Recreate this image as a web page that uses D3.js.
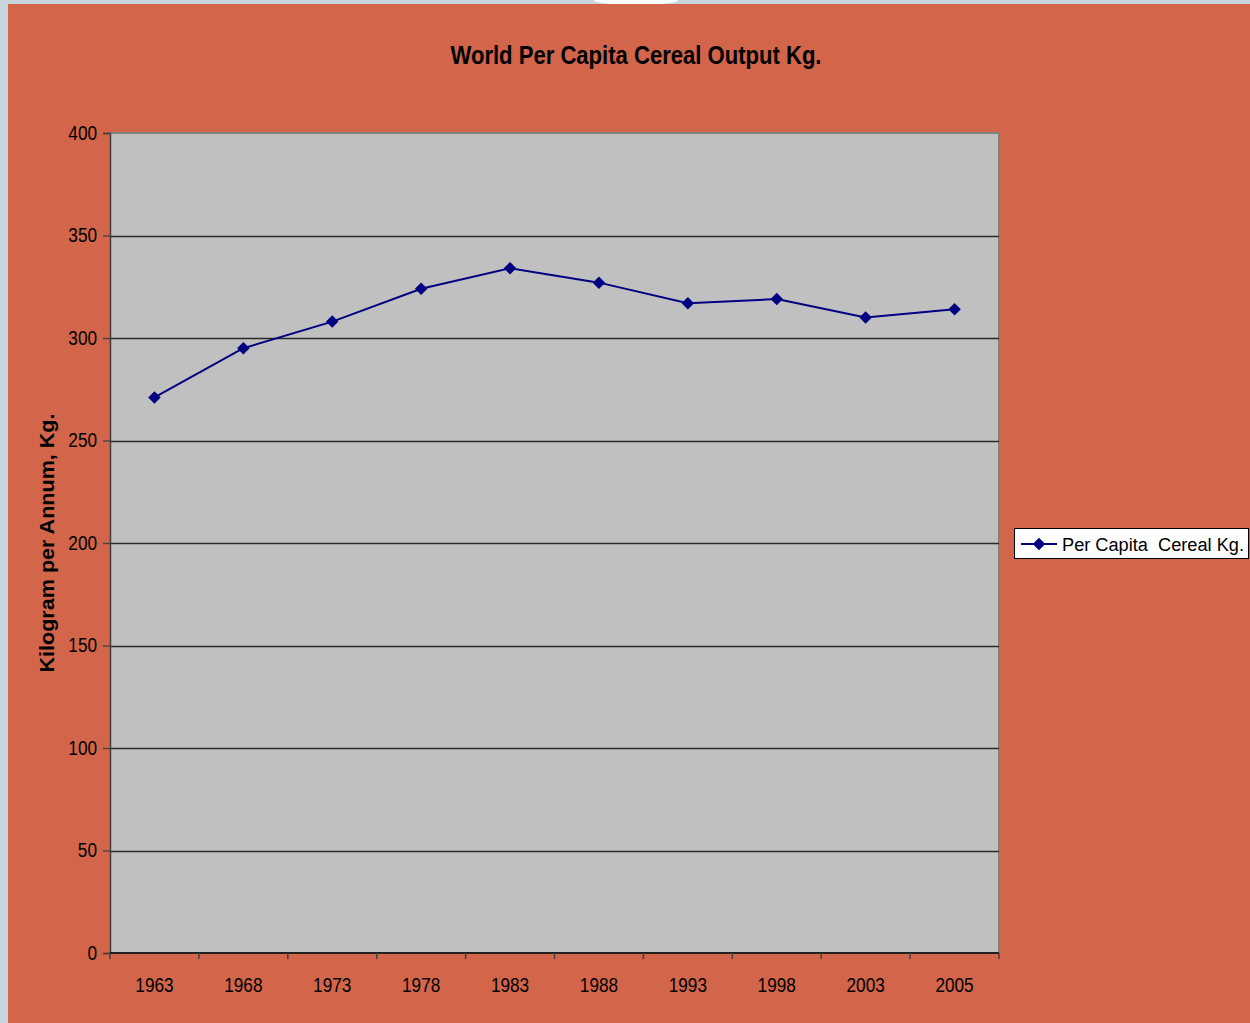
<!DOCTYPE html>
<html>
<head>
<meta charset="utf-8">
<script src="https://cdn.jsdelivr.net/npm/d3@7"></script>
<style>
  body { margin: 0; background: #c9d5dc; }
  svg { display: block; }
</style>
</head>
<body>
<svg id="chart"></svg>
<script>
const years = ["1963", "1968", "1973", "1978", "1983", "1988", "1993", "1998", "2003", "2005"];
const cereal = [271, 295, 308, 324, 334, 327, 317, 319, 310, 314];
const yTicks = [0, 50, 100, 150, 200, 250, 300, 350, 400];
const seriesName = "Per Capita  Cereal Kg.";

const width = 1250;
const height = 1023;
const plot = { left: 110, top: 133, right: 999, bottom: 953 };
const sans = "'Liberation Sans', Arial, sans-serif";

// squeeze text horizontally to mimic a narrow face
function narrow(sel, factor) {
    sel.each(function() {
        var w = this.getComputedTextLength();
        d3.select(this)
            .attr("textLength", w * factor)
            .attr("lengthAdjust", "spacingAndGlyphs");
    });
}

var svg = d3.select("#chart")
    .attr("width", width)
    .attr("height", height);

// page frame
svg.append("rect")
    .attr("x", 0).attr("y", 0)
    .attr("width", width).attr("height", height)
    .attr("fill", "#c9d5dc");
svg.append("ellipse")
    .attr("cx", 636).attr("cy", 0)
    .attr("rx", 42).attr("ry", 5)
    .attr("fill", "#ffffff");
svg.append("rect")
    .attr("x", 8).attr("y", 4)
    .attr("width", width - 8).attr("height", height - 4)
    .attr("fill", "#d2654a");

var x = d3.scaleBand()
    .domain(years)
    .range([plot.left, plot.right]);

var y = d3.scaleLinear()
    .domain([0, 400])
    .range([plot.bottom, plot.top]);

// plot area
svg.append("rect")
    .attr("x", plot.left).attr("y", plot.top)
    .attr("width", plot.right - plot.left)
    .attr("height", plot.bottom - plot.top)
    .attr("fill", "#c0c0c0")
    .attr("stroke", "#808080")
    .attr("stroke-width", 2);

// gridlines
svg.append("g")
    .selectAll("line")
    .data(yTicks.filter(d => d > 0 && d < 400))
    .enter()
    .append("line")
    .attr("x1", plot.left).attr("x2", plot.right)
    .attr("y1", d => Math.round(y(d)) + 0.5)
    .attr("y2", d => Math.round(y(d)) + 0.5)
    .attr("stroke", "#2a2a2a")
    .attr("stroke-width", 1.3);

// y axis
var yAxis = svg.append("g")
    .attr("transform", "translate(" + plot.left + ",0)")
    .call(d3.axisLeft(y).tickValues(yTicks).tickSize(7).tickPadding(6));
yAxis.select(".domain").attr("stroke", "#404040").attr("stroke-width", 1.5);
yAxis.selectAll(".tick line").attr("stroke", "#404040").attr("stroke-width", 1.3);
yAxis.selectAll("text")
    .attr("font-family", sans)
    .attr("font-size", 20)
    .attr("fill", "#000")
    .call(narrow, 0.86);

// x axis with ticks between categories
var xAxis = svg.append("g")
    .attr("transform", "translate(0," + plot.bottom + ")")
    .call(d3.axisBottom(x).tickSize(0).tickPadding(25));
xAxis.select(".domain").remove();
xAxis.selectAll("text")
    .attr("font-family", sans)
    .attr("font-size", 20)
    .attr("fill", "#000")
    .call(narrow, 0.86);
svg.append("line")
    .attr("x1", plot.left).attr("x2", plot.right)
    .attr("y1", plot.bottom).attr("y2", plot.bottom)
    .attr("stroke", "#000").attr("stroke-width", 1.5);
svg.append("g")
    .selectAll("line")
    .data(years.concat(["end"]))
    .enter()
    .append("line")
    .attr("x1", (d, i) => plot.left + i * x.bandwidth())
    .attr("x2", (d, i) => plot.left + i * x.bandwidth())
    .attr("y1", plot.bottom)
    .attr("y2", plot.bottom + 6)
    .attr("stroke", "#404040")
    .attr("stroke-width", 1.5);

// series line
var line = d3.line()
    .x((d, i) => x(years[i]) + x.bandwidth() / 2)
    .y(d => y(d));

svg.append("path")
    .datum(cereal)
    .attr("d", line)
    .attr("fill", "none")
    .attr("stroke", "#000080")
    .attr("stroke-width", 2);

var diamond = d3.symbol().type(d3.symbolDiamond2).size(100);

svg.append("g")
    .selectAll("path")
    .data(cereal)
    .enter()
    .append("path")
    .attr("d", diamond)
    .attr("transform", (d, i) => "translate(" + (x(years[i]) + x.bandwidth() / 2) + "," + y(d) + ")")
    .attr("fill", "#000080");

// title
svg.append("text")
    .attr("x", 636).attr("y", 64)
    .attr("text-anchor", "middle")
    .attr("font-family", sans)
    .attr("font-weight", "bold")
    .attr("font-size", 25)
    .attr("textLength", 371)
    .attr("lengthAdjust", "spacingAndGlyphs")
    .text("World Per Capita Cereal Output Kg.");

// y axis title
svg.append("text")
    .attr("transform", "translate(54,543) rotate(-90)")
    .attr("text-anchor", "middle")
    .attr("font-family", sans)
    .attr("font-weight", "bold")
    .attr("font-size", 20)
    .attr("textLength", 259)
    .attr("lengthAdjust", "spacingAndGlyphs")
    .text("Kilogram per Annum, Kg.");

// legend
var legend = svg.append("g").attr("transform", "translate(1014,528)");
legend.append("rect")
    .attr("x", 0.5).attr("y", 0.5)
    .attr("width", 234).attr("height", 30)
    .attr("fill", "#ffffff")
    .attr("stroke", "#000")
    .attr("stroke-width", 1);
legend.append("line")
    .attr("x1", 7).attr("x2", 43)
    .attr("y1", 16).attr("y2", 16)
    .attr("stroke", "#000080")
    .attr("stroke-width", 2);
legend.append("path")
    .attr("d", diamond)
    .attr("transform", "translate(25,16)")
    .attr("fill", "#000080");
legend.append("text")
    .attr("x", 48).attr("y", 23)
    .attr("font-family", sans)
    .attr("font-size", 18)
    .attr("xml:space", "preserve")
    .style("white-space", "pre")
    .attr("textLength", 182)
    .attr("lengthAdjust", "spacingAndGlyphs")
    .text(seriesName);
</script>
</body>
</html>
